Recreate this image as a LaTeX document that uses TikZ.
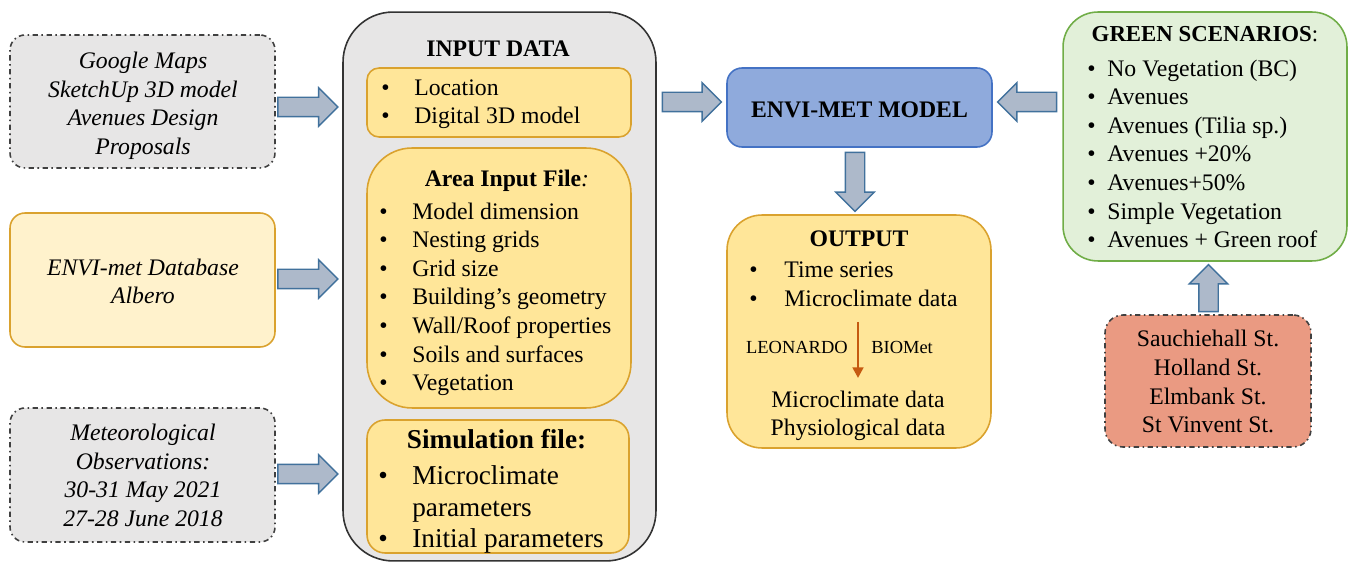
\documentclass[tikz,border=0pt]{standalone}
\usepackage{fontspec}
\setmainfont{Liberation Serif}
\usetikzlibrary{shapes.arrows,arrows.meta}

\definecolor{greyfill}{HTML}{E7E6E6}
\definecolor{greyline}{HTML}{404040}
\definecolor{goldfill}{HTML}{FFE699}
\definecolor{goldline}{HTML}{DAA22E}
\definecolor{creamfill}{HTML}{FFF2CC}
\definecolor{bluefill}{HTML}{8FAADC}
\definecolor{blueline}{HTML}{4472C4}
\definecolor{greenfill}{HTML}{E2F0D9}
\definecolor{greenline}{HTML}{70AD47}
\definecolor{salmonfill}{HTML}{EA9A82}
\definecolor{arrowfill}{HTML}{ADB9CA}
\definecolor{arrowline}{HTML}{41719C}
\definecolor{rustline}{HTML}{C55A11}

\newcommand{\itm}[2][0.66cm]{\makebox[#1][l]{\textbullet}#2}

\tikzstyle{box} = [draw, line width=0.9pt, rectangle]
\tikzstyle{greybox} = [box, draw=greyline, fill=greyfill, dash dot, rounded corners=0.3cm]
\tikzstyle{goldbox} = [box, draw=goldline, fill=goldfill]
\tikzstyle{txt} = [inner sep=0pt, font=\fontsize{13.5}{16.3}\selectfont, execute at begin node=\strut, execute at end node=\strut]
\tikzstyle{itxt} = [txt, align=center, font=\fontsize{13.5}{16.3}\selectfont\itshape]
\tikzstyle{bigtxt} = [txt, font=\fontsize{15.5}{18}\selectfont]
\tikzstyle{smalltxt} = [txt, font=\fontsize{10.5}{12.6}\selectfont]
\tikzstyle{lst} = [txt, align=left, anchor=west]
\tikzstyle{blockarrow} = [single arrow, draw=arrowline, fill=arrowfill, line width=0.8pt, inner xsep=0pt, inner ysep=0.18cm, single arrow head extend=0.19cm]
\tikzstyle{vblockarrow} = [blockarrow, inner xsep=0.18cm, inner ysep=0pt]

\begin{document}
\begin{tikzpicture}[x=0.02cm, y=-0.02cm]
    \useasboundingbox (0,0) rectangle (1349,563);

    % sources on the left
    \node[greybox, minimum width=5.3cm, minimum height=2.66cm] (google) at (142.5, 101.5) {};
    \node[goldbox, fill=creamfill, rounded corners=0.3cm, minimum width=5.3cm, minimum height=2.68cm] (database) at (142.5, 280) {};
    \node[greybox, minimum width=5.3cm, minimum height=2.68cm] (meteo) at (142.5, 475) {};

    \node[itxt] (googletext)   at (143, 107.5) {Google Maps\\SketchUp 3D model\\Avenues Design\\Proposals};
    \node[itxt] (databasetext) at (143, 285.5) {ENVI-met Database\\Albero};
    \node[itxt] (meteotext)    at (143, 479.5) {Meteorological\\Observations:\\30-31 May 2021\\27-28 June 2018};

    % input data
    \node[box, draw=black!80, fill=greyfill, rounded corners=1cm, minimum width=6.26cm, minimum height=10.98cm] (input) at (499.5, 286.5) {};
    \node[txt] (inputtitle) at (498, 51) {\textbf{INPUT DATA}};

    \node[goldbox, rounded corners=0.24cm, minimum width=5.28cm, minimum height=1.38cm] (site) at (499, 102.5) {};
    \node[lst] (sitelist) at (381, 106) {\itm{Location}\\\itm{Digital 3D model}};

    \node[goldbox, rounded corners=0.9cm, minimum width=5.28cm, minimum height=5.2cm] (area) at (499, 278) {};
    \node[txt] (areatitle) at (507, 181) {\textbf{Area Input File}\textit{:}};
    \node[lst] (arealist) at (379, 301) {\itm{Model dimension}\\\itm{Nesting grids}\\\itm{Grid size}\\\itm{Building’s geometry}\\\itm{Wall/Roof properties}\\\itm{Soils and surfaces}\\\itm{Vegetation}};

    \node[goldbox, rounded corners=0.36cm, minimum width=5.24cm, minimum height=2.66cm] (simfile) at (498, 486.5) {};
    \node[bigtxt] (simtitle) at (496.5, 442) {\textbf{Simulation file:}};
    \node[bigtxt, align=left, anchor=west] (simlist) at (378, 511.5) {\itm[0.68cm]{Microclimate}\\\makebox[0.68cm]{}parameters\\\itm[0.68cm]{Initial parameters}};

    % block arrows
    \node[blockarrow, minimum height=1.2cm] (arrin1) at (303, 107) {};
    \node[blockarrow, minimum height=1.2cm] (arrin2) at (303, 279) {};
    \node[blockarrow, minimum height=1.2cm] (arrin3) at (303, 474) {};
    \node[blockarrow, minimum height=1.18cm] (arrmodel) at (687, 102) {};
    \node[blockarrow, minimum height=1.18cm, shape border rotate=180] (arrgreen) at (1032, 102) {};
    \node[vblockarrow, minimum height=1.18cm, shape border rotate=270] (arrout) at (855, 177) {};
    \node[vblockarrow, minimum height=0.94cm, shape border rotate=90] (arrstreet) at (1208.5, 293) {};

    % model and output
    \node[box, draw=blueline, fill=bluefill, rounded corners=0.3cm, minimum width=5.3cm, minimum height=1.58cm] (envimet) at (859.5, 107.5) {};
    \node[txt] (envimettext) at (859.5, 112) {\textbf{ENVI-MET MODEL}};

    \node[goldbox, rounded corners=0.7cm, minimum width=5.28cm, minimum height=4.66cm] (output) at (859, 331.5) {};
    \node[txt] (outtitle) at (859, 241) {\textbf{OUTPUT}};
    \node[lst] (outlist) at (749, 288.5) {\itm[0.7cm]{Time series}\\\itm[0.7cm]{Microclimate data}};
    \node[smalltxt, anchor=east] (leonardo) at (848, 349) {LEONARDO};
    \node[smalltxt, anchor=west] (biomet) at (871, 349) {BIOMet};
    \coordinate (leotop) at (858, 322);
    \coordinate (leobot) at (858, 378);
    \draw[rustline, line width=1.6pt, -{Triangle[width=6pt,length=6pt]}] (leotop) -- (leobot);
    \node[txt, align=center] (outresult) at (858, 417.5) {Microclimate data\\Physiological data};

    % scenarios
    \node[box, draw=greenline, fill=greenfill, rounded corners=0.7cm, minimum width=5.68cm, minimum height=4.98cm] (green) at (1205, 136.5) {};
    \node[txt, font=\fontsize{13}{16}\selectfont] (greentitle) at (1205, 36) {\textbf{GREEN SCENARIOS}:};
    \node[lst] (greenlist) at (1087, 158) {\itm[0.4cm]{No Vegetation (BC)}\\\itm[0.4cm]{Avenues}\\\itm[0.4cm]{Avenues (Tilia sp.)}\\\itm[0.4cm]{Avenues +20\%}\\\itm[0.4cm]{Avenues+50\%}\\\itm[0.4cm]{Simple Vegetation}\\\itm[0.4cm]{Avenues + Green roof}};

    \node[greybox, fill=salmonfill, rounded corners=0.36cm, minimum width=4.12cm, minimum height=2.64cm] (streets) at (1208, 381) {};
    \node[txt, align=center] (streettext) at (1208, 386) {Sauchiehall St.\\Holland St.\\Elmbank St.\\St Vinvent St.};
\end{tikzpicture}
\end{document}
